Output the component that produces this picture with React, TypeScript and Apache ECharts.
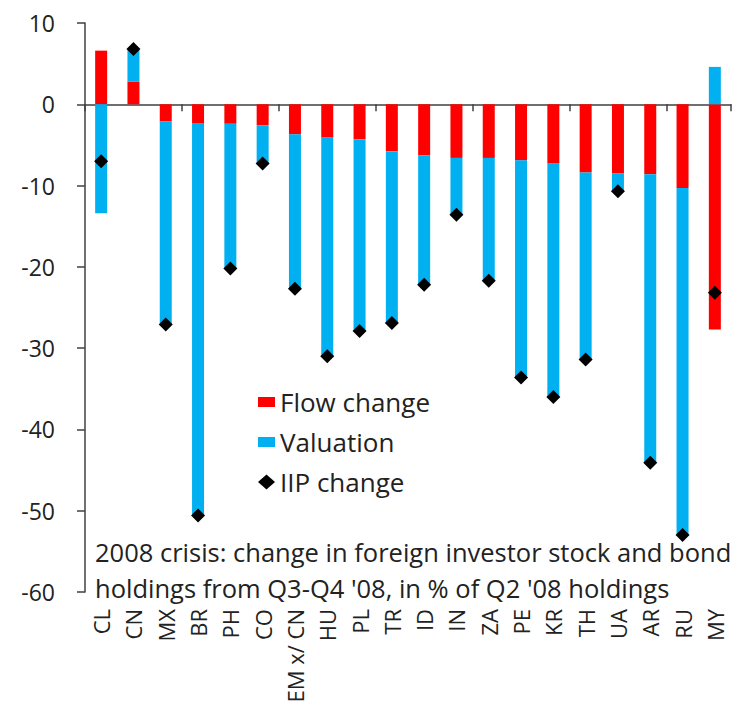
import React, { useEffect, useRef } from 'react';
import * as echarts from 'echarts';

const categories = ['CL', 'CN', 'MX', 'BR', 'PH', 'CO', 'EM x/ CN', 'HU', 'PL', 'TR', 'ID', 'IN', 'ZA', 'PE', 'KR', 'TH', 'UA', 'AR', 'RU', 'MY'];
const flowChange = [6.6, 2.8, -2.1, -2.3, -2.4, -2.6, -3.7, -4.1, -4.3, -5.8, -6.3, -6.6, -6.6, -6.9, -7.3, -8.4, -8.5, -8.6, -10.3, -27.7];
const valuation = [-13.4, 3.9, -25.0, -48.3, -17.8, -4.7, -19.0, -26.9, -23.6, -21.1, -15.9, -7.0, -15.1, -26.7, -28.7, -23.0, -2.2, -35.5, -42.7, 4.6];
const iipChange = [-7.0, 6.8, -27.1, -50.6, -20.2, -7.3, -22.7, -31.0, -27.9, -26.9, -22.2, -13.6, -21.7, -33.6, -36.0, -31.4, -10.7, -44.1, -53.0, -23.2];
const captionLines = [
  '2008 crisis: change in foreign investor stock and bond',
  "holdings from Q3-Q4 '08, in % of Q2 '08 holdings",
];

const FONT = "'Open Sans', sans-serif";
const TEXT = '#222222';
const AXIS = '#404040';

export default function App() {
  const ref = useRef<HTMLDivElement>(null);
  useEffect(() => {
    document.body.style.margin = '0';
    const chart = echarts.init(ref.current!, null, { renderer: 'svg' });
    chart.setOption({
      animation: false,
      grid: { left: 85, right: 9, top: 23, bottom: 127 },
      legend: [
        {
          orient: 'vertical',
          left: 258,
          top: 389,
          padding: 0,
          itemWidth: 17,
          itemHeight: 10,
          itemGap: 14,
          selectedMode: false,
          data: [
            { name: 'Flow change', icon: 'rect' },
            { name: 'Valuation', icon: 'rect' },
          ],
          textStyle: { fontFamily: FONT, fontSize: 26, lineHeight: 26, color: TEXT },
        },
        {
          orient: 'vertical',
          left: 258,
          top: 469,
          padding: 0,
          itemWidth: 17,
          itemHeight: 15,
          selectedMode: false,
          data: [{ name: 'IIP change', icon: 'diamond', itemStyle: { color: '#000000', opacity: 1 } }],
          textStyle: { fontFamily: FONT, fontSize: 26, lineHeight: 26, color: TEXT },
        },
      ],
      xAxis: [
        {
          type: 'category',
          data: categories,
          axisLine: { onZero: true, lineStyle: { color: AXIS, width: 1.5 } },
          axisTick: { show: true, length: 7, lineStyle: { color: AXIS, width: 1.5 } },
          axisLabel: { show: false },
          splitLine: { show: false },
        },
        {
          type: 'category',
          data: categories,
          position: 'bottom',
          axisLine: { show: false, onZero: false },
          axisTick: { show: false },
          splitLine: { show: false },
          axisLabel: { rotate: 90, margin: 17, fontSize: 22, fontFamily: FONT, color: TEXT, interval: 0 },
        },
      ],
      yAxis: {
        type: 'value',
        min: -60,
        max: 10,
        interval: 10,
        axisLine: { show: true, lineStyle: { color: AXIS, width: 1.5 } },
        axisTick: { show: true, length: 8, lineStyle: { color: AXIS, width: 1.5 } },
        splitLine: { show: false },
        axisLabel: { margin: 30, fontSize: 23, fontFamily: FONT, color: TEXT },
      },
      graphic: captionLines.map((t, i) => ({
        type: 'text',
        x: 95,
        y: 552 + i * 36,
        style: { text: t, fontSize: 25.5, fontFamily: FONT, fill: TEXT, align: 'left', verticalAlign: 'middle' },
      })),
      series: [
        {
          name: 'Flow change',
          type: 'bar',
          stack: 'total',
          barWidth: 12,
          data: flowChange,
          itemStyle: { color: '#FF0000' },
        },
        {
          name: 'Valuation',
          type: 'bar',
          stack: 'total',
          barWidth: 12,
          data: valuation,
          itemStyle: { color: '#00B0F0' },
        },
        {
          name: 'IIP change',
          type: 'scatter',
          symbol: 'diamond',
          symbolSize: 14,
          data: iipChange,
          itemStyle: { color: '#000000', opacity: 1 },
          z: 5,
        },
      ],
    });
    return () => chart.dispose();
  }, []);
  return <div ref={ref} style={{ width: 740, height: 719 }} />;
}
